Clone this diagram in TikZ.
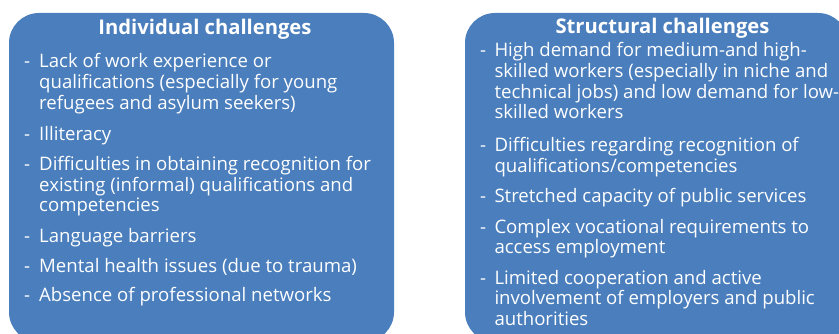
\documentclass[tikz,border=0pt]{standalone}
\usepackage{fontspec}
\setmainfont{Open Sans}
\definecolor{boxblue}{HTML}{4A7EBC}
\begin{document}
\begin{tikzpicture}[x=1pt,y=-1pt,
  panel/.style={fill=boxblue, rounded corners=30pt},
  ln/.style={anchor=base west, inner sep=0pt, text=white, font=\fontsize{18.6}{21}\selectfont},
  bul/.style={anchor=base west, inner sep=0pt, text=white, font=\fontsize{18.6}{21}\selectfont},
  ttl/.style={anchor=base, inner sep=0pt, text=white, font=\fontsize{20.2}{22}\selectfont\bfseries}]
\useasboundingbox (0,0) rectangle (839,334);
\begin{scope}
  \clip (0,0) rectangle (839,334);
  \fill[panel] (9,13) rectangle (394,342);
  \fill[panel] (465,13) rectangle (848,342);
\end{scope}
% left panel
\node[ttl] (lt) at (205,35) {Individual challenges};
\node[bul] (lb1) at (24,67.7) {-};
\node[ln] (l1a) at (39,67.7) {Lack of work experience or};
\node[ln] (l1b) at (39,88.5) {qualifications (especially for young};
\node[ln] (l1c) at (39,109.3) {refugees and asylum seekers)};
\node[bul] (lb2) at (24,141) {-};
\node[ln] (l2a) at (39,141) {Illiteracy};
\node[bul] (lb3) at (24,170.7) {-};
\node[ln] (l3a) at (39,170.7) {Difficulties in obtaining recognition for};
\node[ln] (l3b) at (39,191.5) {existing (informal) qualifications and};
\node[ln] (l3c) at (39,212) {competencies};
\node[bul] (lb4) at (24,242.7) {-};
\node[ln] (l4a) at (39,242.7) {Language barriers};
\node[bul] (lb5) at (24,272.3) {-};
\node[ln] (l5a) at (39,272.3) {Mental health issues (due to trauma)};
\node[bul] (lb6) at (24,301.7) {-};
\node[ln] (l6a) at (39,301.7) {Absence of professional networks};
% right panel
\node[ttl] (rt) at (662.5,33.3) {Structural challenges};
\node[bul] (rb1) at (480,57) {-};
\node[ln] (r1a) at (494.3,57) {High demand for medium-and high-};
\node[ln] (r1b) at (494.3,77.7) {skilled workers (especially in niche and};
\node[ln] (r1c) at (494.3,98.3) {technical jobs) and low demand for low-};
\node[ln] (r1d) at (494.3,119) {skilled workers};
\node[bul] (rb2) at (480,151.7) {-};
\node[ln] (r2a) at (494.3,151.7) {Difficulties regarding recognition of};
\node[ln] (r2b) at (494.3,172.7) {qualifications/competencies};
\node[bul] (rb3) at (480,202.7) {-};
\node[ln] (r3a) at (494.3,202.7) {Stretched capacity of public services};
\node[bul] (rb4) at (480,233.3) {-};
\node[ln] (r4a) at (494.3,233.3) {Complex vocational requirements to};
\node[ln] (r4b) at (494.3,253.3) {access employment};
\node[bul] (rb5) at (480,284) {-};
\node[ln] (r5a) at (494.3,284) {Limited cooperation and active};
\node[ln] (r5b) at (494.3,305) {involvement of employers and public};
\node[ln] (r5c) at (494.3,325) {authorities};
\end{tikzpicture}
\end{document}
